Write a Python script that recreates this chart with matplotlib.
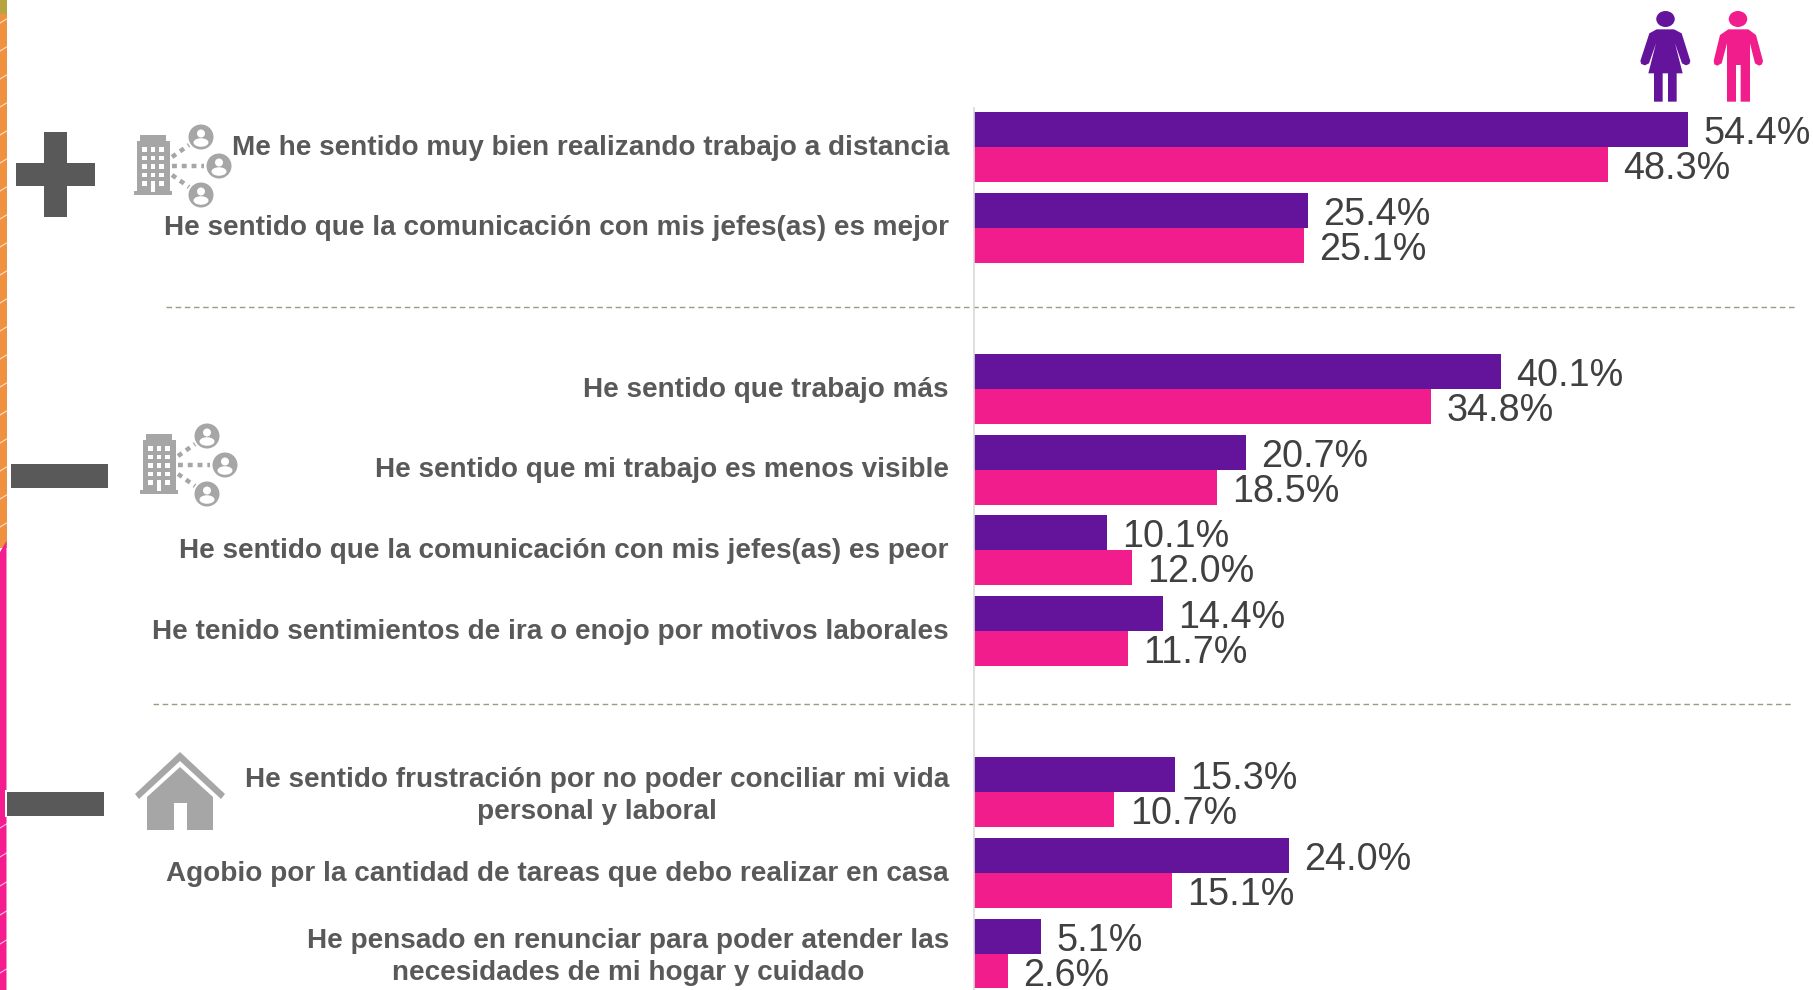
from __future__ import annotations

import matplotlib

matplotlib.use("Agg")

import matplotlib.pyplot as plt
from matplotlib.patches import Circle, Polygon, Rectangle, Ellipse
from matplotlib.transforms import ScaledTranslation

OUTPUT_FILE = "out.png"
W, H = 1813, 990

LABELS = [
    "Me he sentido muy bien realizando trabajo a distancia",
    "He sentido que la comunicación con mis jefes(as) es mejor",
    "He sentido que trabajo más",
    "He sentido que mi trabajo es menos visible",
    "He sentido que la comunicación con mis jefes(as) es peor",
    "He tenido sentimientos de ira o enojo por motivos laborales",
    "He sentido frustración por no poder conciliar mi vida\npersonal y laboral",
    "Agobio por la cantidad de tareas que debo realizar en casa",
    "He pensado en renunciar para poder atender las\nnecesidades de mi hogar y cuidado",
]
MUJERES = [54.4, 25.4, 40.1, 20.7, 10.1, 14.4, 15.3, 24.0, 5.1]
HOMBRES = [48.3, 25.1, 34.8, 18.5, 12.0, 11.7, 10.7, 15.1, 2.6]
ROWS = [0, 1, 3, 4, 5, 6, 8, 9, 10]

PURPLE = "#64149B"
PINK = "#F21D8C"
ICON_GRAY = "#A6A6A6"
DARK = "#595959"
BAR_H = 0.433


def building(ax, dx, dy):
    ax.add_patch(Rectangle((137 + dx, 141 + dy), 33, 52, color=ICON_GRAY, lw=0))
    ax.add_patch(Rectangle((140 + dx, 135 + dy), 26, 7, color=ICON_GRAY, lw=0))
    ax.add_patch(Rectangle((134 + dx, 191 + dy), 38, 4, color=ICON_GRAY, lw=0))
    for wy in (147, 155.5, 164, 172.5, 181):
        for wx in (142, 150.5, 159):
            if wy == 181 and wx == 150.5:
                ax.add_patch(Rectangle((wx + dx, wy + dy), 4.5, 11, color="white", lw=0))
            else:
                ax.add_patch(Rectangle((wx + dx, wy + dy), 4.5, 4.5, color="white", lw=0))
    for cx, cy in ((201, 137), (219, 166), (201, 195)):
        ax.add_patch(Circle((cx + dx, cy + dy), 12.5, color=ICON_GRAY, lw=0))
        ax.add_patch(Circle((cx + dx, cy - 3.5 + dy), 4, color="white", lw=0))
        ax.add_patch(Ellipse((cx + dx, cy + 5.5 + dy), 15, 8.5, color="white", lw=0))
    for x1, y1, x2, y2 in ((172, 157, 189, 145), (172, 166, 204, 166), (172, 175, 189, 187)):
        ax.plot([x1 + dx, x2 + dx], [y1 + dy, y2 + dy], color=ICON_GRAY, lw=3.2,
                ls=(0, (1.1, 1.1)))


def house(ax):
    ax.add_patch(Polygon([(180, 752), (225, 794), (221, 799), (180, 761), (139, 799), (135, 794)],
                         color=ICON_GRAY, lw=0))
    ax.add_patch(Polygon([(180, 767), (213, 797), (213, 830), (147, 830), (147, 797)],
                         color=ICON_GRAY, lw=0))
    ax.add_patch(Rectangle((173.5, 803), 13, 27, color="white", lw=0))


def person_icons(ax):
    woman = [(230, 88), (282, 88), (305, 100), (331, 183), (328, 192), (318, 196), (306, 190),
             (285, 130), (308, 220), (290, 220), (290, 305), (264, 305), (264, 220), (248, 220),
             (248, 305), (222, 305), (222, 220), (205, 220), (228, 130), (207, 190), (195, 196),
             (184, 192), (181, 183), (208, 100)]
    man = [(445, 88), (505, 88), (528, 105), (549, 183), (546, 193), (537, 197), (525, 190),
           (510, 130), (510, 305), (482, 305), (482, 195), (468, 195), (468, 305), (441, 305),
           (441, 130), (425, 190), (412, 197), (403, 193), (401, 183), (420, 105)]
    ax.add_patch(Polygon([(1580 + x / 3, y / 3) for x, y in woman], color=PURPLE, lw=0))
    ax.add_patch(Polygon([(1580 + x / 3, y / 3) for x, y in man], color=PINK, lw=0))
    ax.add_patch(Ellipse((1665.5, 19), 18.5, 16, color=PURPLE, lw=0))
    ax.add_patch(Ellipse((1738, 19), 18.5, 16, color=PINK, lw=0))


def decorations(ax):
    ax.add_patch(Rectangle((0, 0), 6.5, 548, color="#F0913F", lw=0))
    ax.add_patch(Polygon([(0, 552), (6.5, 541), (6.5, H), (0, H)], color="#F51C8F", lw=0))
    ax.add_patch(Rectangle((0, 0), 6.5, 14, color="#B7A33F", lw=0))
    for y in list(range(20, 540, 28)) + list(range(825, 990, 29)):
        ax.plot([0, 6.5], [y + 3, y - 1], color="white", lw=0.8, alpha=0.7)

    # plus and the two minus signs
    ax.add_patch(Rectangle((16, 163), 79, 23, color=DARK, lw=0))
    ax.add_patch(Rectangle((44, 132), 23, 85, color=DARK, lw=0))
    ax.add_patch(Rectangle((11, 464), 97, 24, color=DARK, lw=0))
    ax.add_patch(Rectangle((5, 790), 100, 27, color="white", lw=0))
    ax.add_patch(Rectangle((7, 792), 97, 23.5, color=DARK, lw=0))

    building(ax, 0, 0)
    building(ax, 6, 299)
    house(ax)
    person_icons(ax)

    ax.plot([166, 1795], [306.5, 306.5], color="#9C9C7C", lw=1, ls=(0, (4, 2.6)))
    ax.plot([153, 1792], [703.5, 703.5], color="#9C9C7C", lw=1, ls=(0, (4, 2.6)))


def main() -> None:
    plt.rcParams["font.family"] = ["Liberation Sans", "DejaVu Sans"]
    fig = plt.figure(figsize=(W / 100, H / 100), dpi=100)

    back = fig.add_axes([0, 0, 1, 1])
    back.set_xlim(0, W)
    back.set_ylim(H, 0)
    back.axis("off")
    decorations(back)

    # bar panel: x0 at 974 px, 13.13 px per point, rows 80.65 px apart
    x0, top = 974, 108
    ax = fig.add_axes([x0 / W, 0, (W - x0) / W, (H - top) / H])
    ax.patch.set_alpha(0)
    ax.set_xlim(0, (W - x0) / 13.13)
    ax.set_ylim((H - 147) / 80.65, (top - 147) / 80.65)

    up = [r - BAR_H / 2 for r in ROWS]
    down = [r + BAR_H / 2 for r in ROWS]
    b1 = ax.barh(up, MUJERES, height=BAR_H, color=PURPLE)
    b2 = ax.barh(down, HOMBRES, height=BAR_H, color=PINK)
    for bars, vals in ((b1, MUJERES), (b2, HOMBRES)):
        labs = ax.bar_label(bars, labels=[f"{v:.1f}%" for v in vals], padding=11,
                            fontsize=27.2, color="#404040", clip_on=False)
        for t in labs:
            t.xyann = (11, -3.3)

    ax.set_yticks(ROWS)
    ax.set_yticklabels(LABELS, fontsize=20.05, fontweight="bold", color=DARK,
                       ha="right", multialignment="center", linespacing=1.3)
    ax.tick_params(axis="y", length=0, pad=18)
    shift = ScaledTranslation(0, 2.3 / 100, fig.dpi_scale_trans)
    for t in ax.get_yticklabels():
        t.set_transform(t.get_transform() + shift)
    ax.set_xticks([])
    for side in ("top", "right", "bottom"):
        ax.spines[side].set_visible(False)
    ax.spines["left"].set_color("#D9D9D9")
    ax.spines["left"].set_linewidth(1.2)

    fig.savefig(OUTPUT_FILE, dpi=100)


if __name__ == "__main__":
    main()
